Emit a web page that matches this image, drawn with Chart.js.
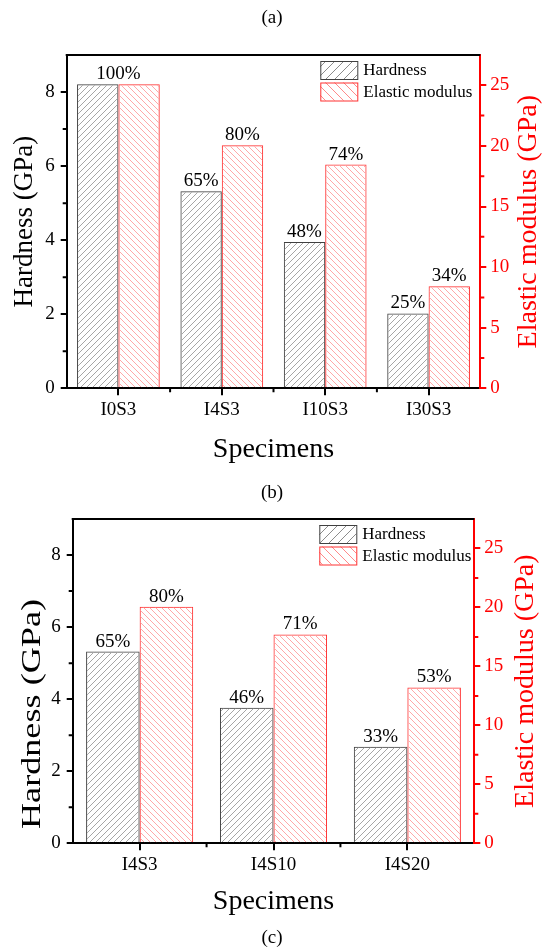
<!DOCTYPE html>
<html lang="en">
<head>
<meta charset="UTF-8">
<title>Hardness and elastic modulus</title>
<script src="https://cdn.jsdelivr.net/npm/chart.js@4.4.1/dist/chart.umd.min.js"></script>
<style>
  body{margin:0; background:#fff;}
  .panel{width:544px; height:476px;}
</style>
</head>
<body>
<div class="panel"><canvas id="chartA" width="544" height="476"></canvas></div>
<div class="panel"><canvas id="chartB" width="544" height="476"></canvas></div>
<script>
// panel (a): In content series
const specimensA = ['I0S3', 'I4S3', 'I10S3', 'I30S3'];
const hardnessA = [8.21, 5.32, 3.95, 2.02];
const modulusA = [25.09, 20.05, 18.46, 8.43];

// panel (b): S content series
const specimensB = ['I4S3', 'I4S10', 'I4S20'];
const hardnessB = [5.32, 3.76, 2.68];
const modulusB = [20.05, 17.71, 13.22];

// labelled ticks
const hardnessTicks = [0, 2, 4, 6, 8];
const modulusTicks = [0, 5, 10, 15, 20, 25];

// percentages are relative to I0S3
const refHardness = hardnessA[0];
const refModulus = modulusA[0];
const pct = (arr, ref) => arr.map(v => Math.round(v / ref * 100));

const FONT = '"Liberation Serif", "Times New Roman", serif';
const W = 544, H = 476;

function hatch(ctx, stroke, rising, gap) {
  const c = document.createElement('canvas');
  c.width = gap; c.height = gap;
  const g = c.getContext('2d');
  g.strokeStyle = stroke;
  g.lineWidth = 1;
  g.beginPath();
  for (let k = -1; k <= 1; k++) {
    if (rising) { g.moveTo(k * gap, gap); g.lineTo(k * gap + gap, 0); }
    else { g.moveTo(k * gap, 0); g.lineTo(k * gap + gap, gap); }
  }
  g.stroke();
  return ctx.createPattern(c, 'repeat');
}

// frame top line, minor ticks, bar percentages, legend, axis titles, captions
const extras = {
  id: 'extras',
  afterDatasetsDraw(chart) {
    const {ctx} = chart;
    const dsH = chart.data.datasets[0], dsE = chart.data.datasets[1];
    const mH = chart.getDatasetMeta(0), mE = chart.getDatasetMeta(1);
    ctx.save();
    ctx.font = '19px ' + FONT;
    ctx.fillStyle = '#000';
    ctx.textAlign = 'center';
    ctx.textBaseline = 'alphabetic';
    mH.data.forEach((barH, i) => {
      const barE = mE.data[i];
      if (dsH.pct[i] === dsE.pct[i] && Math.abs(barH.y - barE.y) < 2) {
        ctx.fillText(dsH.pct[i] + '%', (barH.x + barE.x) / 2, Math.min(barH.y, barE.y) - 5);
      } else {
        ctx.fillText(dsH.pct[i] + '%', barH.x, barH.y - 5);
        ctx.fillText(dsE.pct[i] + '%', barE.x, barE.y - 5);
      }
    });
    ctx.restore();
  },
  afterDraw(chart, args, opts) {
    const {ctx, chartArea: a, scales} = chart;
    ctx.save();
    ctx.lineWidth = 2;

    // top of the frame
    ctx.strokeStyle = '#000';
    ctx.beginPath();
    ctx.moveTo(a.left - 1, a.top);
    ctx.lineTo(a.right, a.top);
    ctx.stroke();

    // minor ticks
    ctx.beginPath();
    for (let v = 1; v < scales.y.max; v += 2) {
      const y = scales.y.getPixelForValue(v);
      ctx.moveTo(a.left - 4, y); ctx.lineTo(a.left, y);
    }
    for (let i = 0; i < chart.data.labels.length - 1; i++) {
      const x = scales.x.getPixelForValue(i + 0.5);
      ctx.moveTo(x, a.bottom); ctx.lineTo(x, a.bottom + 4);
    }
    ctx.stroke();
    ctx.strokeStyle = '#ff0000';
    ctx.beginPath();
    for (let v = 2.5; v < scales.y1.max; v += 5) {
      const y = scales.y1.getPixelForValue(v);
      ctx.moveTo(a.right, y); ctx.lineTo(a.right + 4, y);
    }
    ctx.stroke();

    // vertical axis titles, both reading upward
    const vtitle = (text, x, y, size, color, stretch) => {
      ctx.save();
      ctx.translate(x, y);
      ctx.rotate(-Math.PI / 2);
      ctx.scale(stretch, 1);
      ctx.font = size + 'px ' + FONT;
      ctx.fillStyle = color;
      ctx.textAlign = 'center';
      ctx.textBaseline = 'middle';
      ctx.fillText(text, 0, 0);
      ctx.restore();
    };
    vtitle('Hardness (GPa)', opts.leftTitle.x, opts.leftTitle.y, 27, '#000', opts.leftTitle.stretch);
    vtitle('Elastic modulus (GPa)', opts.rightTitleX, (a.top + a.bottom) / 2, 28, '#ff0000', 1);

    // legend inside the plot
    ctx.lineWidth = 1;
    ctx.font = '17px ' + FONT;
    ctx.textAlign = 'left';
    ctx.textBaseline = 'middle';
    chart.data.datasets.forEach((ds, d) => {
      const bx = a.right - opts.legendDx, by = a.top + 6 + d * 21.5;
      ctx.fillStyle = '#fff';
      ctx.fillRect(bx, by, 37, 18);
      ctx.fillStyle = ds.legendFill;
      ctx.fillRect(bx, by, 37, 18);
      ctx.strokeStyle = ds.borderColor;
      ctx.strokeRect(bx + 0.5, by + 0.5, 37, 18);
      ctx.fillStyle = '#000';
      ctx.fillText(ds.label, bx + 43, by + 10);
    });

    // panel captions
    ctx.font = '19px ' + FONT;
    ctx.textAlign = 'center';
    ctx.fillStyle = '#000';
    opts.captions.forEach(c => ctx.fillText(c.text, W / 2, c.y));
    ctx.restore();
  }
};

function makeChart(id, labels, hardness, modulus, box) {
  const ctx = document.getElementById(id).getContext('2d');
  return new Chart(ctx, {
    type: 'bar',
    data: {
      labels: labels,
      datasets: [{
        label: 'Hardness',
        data: hardness,
        pct: pct(hardness, refHardness),
        yAxisID: 'y',
        backgroundColor: hatch(ctx, '#a6a6a6', true, 6),
        legendFill: hatch(ctx, '#8c8c8c', true, 9),
        borderColor: '#404040',
        borderWidth: 1
      }, {
        label: 'Elastic modulus',
        data: modulus,
        pct: pct(modulus, refModulus),
        yAxisID: 'y1',
        backgroundColor: hatch(ctx, '#ffa8a8', false, 6),
        legendFill: hatch(ctx, '#ff8a8a', false, 9),
        borderColor: '#ff3030',
        borderWidth: 1
      }]
    },
    options: {
      responsive: false,
      animation: false,
      devicePixelRatio: 1,
      layout: {padding: {top: box.top, left: 0, right: 0, bottom: 0}},
      datasets: {bar: {categoryPercentage: 0.8, barPercentage: 1.0, borderSkipped: 'bottom'}},
      plugins: {
        legend: {display: false},
        tooltip: {enabled: false},
        extras: {rightTitleX: box.rightTitleX, leftTitle: box.leftTitle, legendDx: box.legendDx, captions: box.captions}
      },
      scales: {
        x: {
          offset: true,
          grid: {offset: false, drawOnChartArea: false, tickLength: 7, lineWidth: 2, tickWidth: 2, tickColor: '#000'},
          border: {color: '#000', width: 2},
          ticks: {color: '#000', font: {family: FONT, size: 19}, padding: 3, maxRotation: 0},
          title: {display: true, text: 'Specimens', color: '#000', font: {family: FONT, size: 28}, padding: {top: 0, bottom: box.xTitlePad}},
          afterFit: s => { s.height = H - box.bottom; s.paddingLeft = 0; s.paddingRight = 0; }
        },
        y: {
          position: 'left',
          min: 0, max: 9,
          grid: {drawOnChartArea: false, tickLength: 6, lineWidth: 2, tickWidth: 2,
                 tickColor: c => hardnessTicks.includes(c.tick.value) ? '#000' : 'rgba(0,0,0,0)'},
          border: {color: '#000', width: 2},
          ticks: {stepSize: 1, autoSkip: false, color: '#000', font: {family: FONT, size: 19}, padding: 6,
                  callback: v => hardnessTicks.includes(v) ? v : ''},
          afterFit: s => { s.width = box.left; s.paddingTop = 0; s.paddingBottom = 0; }
        },
        y1: {
          position: 'right',
          min: 0, max: 27.5,
          grid: {drawOnChartArea: false, tickLength: 6, lineWidth: 2, tickWidth: 2,
                 tickColor: c => modulusTicks.includes(c.tick.value) ? '#ff0000' : 'rgba(0,0,0,0)'},
          border: {color: '#ff0000', width: 2},
          ticks: {stepSize: 2.5, autoSkip: false, color: '#ff0000', font: {family: FONT, size: 19}, padding: 4,
                  callback: v => modulusTicks.includes(v) ? v : ''},
          afterFit: s => { s.width = W - box.right; s.paddingTop = 0; s.paddingBottom = 0; }
        }
      }
    },
    plugins: [extras]
  });
}

makeChart('chartA', specimensA, hardnessA, modulusA, {
  left: 66.7, right: 480.3, top: 55, bottom: 388.3,
  leftTitle: {x: 25, y: 221.7, stretch: 1},
  xTitlePad: 10, rightTitleX: 528.7, legendDx: 160,
  captions: [{text: '(a)', y: 18}]
});

makeChart('chartB', specimensB, hardnessB, modulusB, {
  left: 72.7, right: 474.3, top: 43, bottom: 367.3,
  leftTitle: {x: 32.5, y: 238, stretch: 1.34},
  xTitlePad: 34, rightTitleX: 526, legendDx: 155,
  captions: [{text: '(b)', y: 17}, {text: '(c)', y: 462}]
});
</script>
</body>
</html>
